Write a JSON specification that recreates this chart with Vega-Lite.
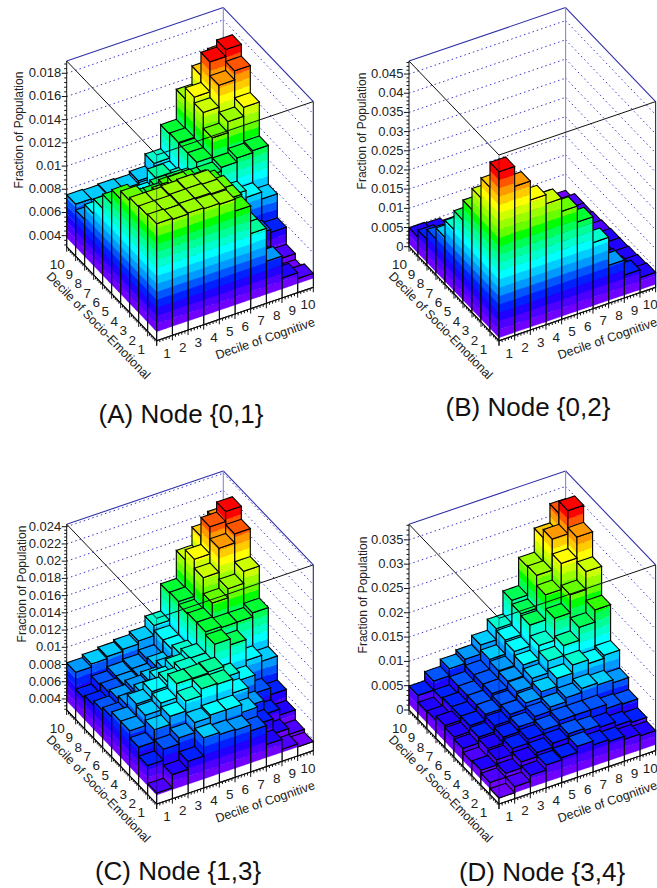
{"$schema":"https://vega.github.io/schema/vega-lite/v6.json","width":657,"height":888,"padding":0,"autosize":{"type":"none"},"background":"white","config":{"view":{"stroke":null}},
"datasets":{
"bars":[
{"p":"A","c":10,"s":10,"v":0.01598},{"p":"A","c":9,"s":10,"v":0.01495},{"p":"A","c":8,"s":10,"v":0.01339},{"p":"A","c":7,"s":10,"v":0.01081},{"p":"A","c":6,"s":10,"v":0.00874},{"p":"A","c":5,"s":10,"v":0.0077},{"p":"A","c":4,"s":10,"v":0.00745},{"p":"A","c":3,"s":10,"v":0.00753},{"p":"A","c":2,"s":10,"v":0.00745},{"p":"A","c":1,"s":10,"v":0.00753},
{"p":"A","c":10,"s":9,"v":0.01753},{"p":"A","c":9,"s":9,"v":0.01693},{"p":"A","c":8,"s":9,"v":0.01434},{"p":"A","c":7,"s":9,"v":0.01089},{"p":"A","c":6,"s":9,"v":0.00848},{"p":"A","c":5,"s":9,"v":0.00753},{"p":"A","c":4,"s":9,"v":0.00719},{"p":"A","c":3,"s":9,"v":0.0071},{"p":"A","c":2,"s":9,"v":0.00702},{"p":"A","c":1,"s":9,"v":0.00702},
{"p":"A","c":10,"s":8,"v":0.0165},{"p":"A","c":9,"s":8,"v":0.01572},{"p":"A","c":8,"s":8,"v":0.01383},{"p":"A","c":7,"s":8,"v":0.01081},{"p":"A","c":6,"s":8,"v":0.00874},{"p":"A","c":5,"s":8,"v":0.00952},{"p":"A","c":4,"s":8,"v":0.00839},{"p":"A","c":3,"s":8,"v":0.00805},{"p":"A","c":2,"s":8,"v":0.00822},{"p":"A","c":1,"s":8,"v":0.00831},
{"p":"A","c":10,"s":7,"v":0.01417},{"p":"A","c":9,"s":7,"v":0.01339},{"p":"A","c":8,"s":7,"v":0.01245},{"p":"A","c":7,"s":7,"v":0.01081},{"p":"A","c":6,"s":7,"v":0.00952},{"p":"A","c":5,"s":7,"v":0.0096},{"p":"A","c":4,"s":7,"v":0.00908},{"p":"A","c":3,"s":7,"v":0.00908},{"p":"A","c":2,"s":7,"v":0.00926},{"p":"A","c":1,"s":7,"v":0.0096},
{"p":"A","c":10,"s":6,"v":0.01124},{"p":"A","c":9,"s":6,"v":0.01107},{"p":"A","c":8,"s":6,"v":0.01072},{"p":"A","c":7,"s":6,"v":0.01038},{"p":"A","c":6,"s":6,"v":0.01038},{"p":"A","c":5,"s":6,"v":0.01064},{"p":"A","c":4,"s":6,"v":0.01064},{"p":"A","c":3,"s":6,"v":0.01012},{"p":"A","c":2,"s":6,"v":0.00995},{"p":"A","c":1,"s":6,"v":0.01081},
{"p":"A","c":10,"s":5,"v":0.00788},{"p":"A","c":9,"s":5,"v":0.00848},{"p":"A","c":8,"s":5,"v":0.00908},{"p":"A","c":7,"s":5,"v":0.00952},{"p":"A","c":6,"s":5,"v":0.01098},{"p":"A","c":5,"s":5,"v":0.0115},{"p":"A","c":4,"s":5,"v":0.0115},{"p":"A","c":3,"s":5,"v":0.01124},{"p":"A","c":2,"s":5,"v":0.01124},{"p":"A","c":1,"s":5,"v":0.01202},
{"p":"A","c":10,"s":4,"v":0.00581},{"p":"A","c":9,"s":4,"v":0.00607},{"p":"A","c":8,"s":4,"v":0.00736},{"p":"A","c":7,"s":4,"v":0.00926},{"p":"A","c":6,"s":4,"v":0.01176},{"p":"A","c":5,"s":4,"v":0.01167},{"p":"A","c":4,"s":4,"v":0.01253},{"p":"A","c":3,"s":4,"v":0.0121},{"p":"A","c":2,"s":4,"v":0.01167},{"p":"A","c":1,"s":4,"v":0.0127},
{"p":"A","c":10,"s":3,"v":0.00434},{"p":"A","c":9,"s":3,"v":0.0046},{"p":"A","c":8,"s":3,"v":0.00607},{"p":"A","c":7,"s":3,"v":0.00952},{"p":"A","c":6,"s":3,"v":0.0121},{"p":"A","c":5,"s":3,"v":0.01305},{"p":"A","c":4,"s":3,"v":0.01314},{"p":"A","c":3,"s":3,"v":0.01305},{"p":"A","c":2,"s":3,"v":0.01296},{"p":"A","c":1,"s":3,"v":0.01296},
{"p":"A","c":10,"s":2,"v":0.00383},{"p":"A","c":9,"s":2,"v":0.00426},{"p":"A","c":8,"s":2,"v":0.00615},{"p":"A","c":7,"s":2,"v":0.00952},{"p":"A","c":6,"s":2,"v":0.0121},{"p":"A","c":5,"s":2,"v":0.01305},{"p":"A","c":4,"s":2,"v":0.01314},{"p":"A","c":3,"s":2,"v":0.01314},{"p":"A","c":2,"s":2,"v":0.01305},{"p":"A","c":1,"s":2,"v":0.01305},
{"p":"A","c":10,"s":1,"v":0.00426},{"p":"A","c":9,"s":1,"v":0.00477},{"p":"A","c":8,"s":1,"v":0.00667},{"p":"A","c":7,"s":1,"v":0.00952},{"p":"A","c":6,"s":1,"v":0.01193},{"p":"A","c":5,"s":1,"v":0.01296},{"p":"A","c":4,"s":1,"v":0.01305},{"p":"A","c":3,"s":1,"v":0.01314},{"p":"A","c":2,"s":1,"v":0.01305},{"p":"A","c":1,"s":1,"v":0.01314},
{"p":"B","c":10,"s":10,"v":0.00078},{"p":"B","c":9,"s":10,"v":0.00235},{"p":"B","c":8,"s":10,"v":0.00235},{"p":"B","c":7,"s":10,"v":0.00261},{"p":"B","c":6,"s":10,"v":0.00287},{"p":"B","c":5,"s":10,"v":0.00313},{"p":"B","c":4,"s":10,"v":0.00365},{"p":"B","c":3,"s":10,"v":0.00391},{"p":"B","c":2,"s":10,"v":0.00469},{"p":"B","c":1,"s":10,"v":0.00495},
{"p":"B","c":10,"s":9,"v":0.00235},{"p":"B","c":9,"s":9,"v":0.00235},{"p":"B","c":8,"s":9,"v":0.00261},{"p":"B","c":7,"s":9,"v":0.00287},{"p":"B","c":6,"s":9,"v":0.00313},{"p":"B","c":5,"s":9,"v":0.00365},{"p":"B","c":4,"s":9,"v":0.00391},{"p":"B","c":3,"s":9,"v":0.00469},{"p":"B","c":2,"s":9,"v":0.00573},{"p":"B","c":1,"s":9,"v":0.00678},
{"p":"B","c":10,"s":8,"v":0.00235},{"p":"B","c":9,"s":8,"v":0.00261},{"p":"B","c":8,"s":8,"v":0.00287},{"p":"B","c":7,"s":8,"v":0.00313},{"p":"B","c":6,"s":8,"v":0.00365},{"p":"B","c":5,"s":8,"v":0.00391},{"p":"B","c":4,"s":8,"v":0.00469},{"p":"B","c":3,"s":8,"v":0.00521},{"p":"B","c":2,"s":8,"v":0.00652},{"p":"B","c":1,"s":8,"v":0.00938},
{"p":"B","c":10,"s":7,"v":0.00261},{"p":"B","c":9,"s":7,"v":0.00287},{"p":"B","c":8,"s":7,"v":0.00313},{"p":"B","c":7,"s":7,"v":0.00365},{"p":"B","c":6,"s":7,"v":0.00391},{"p":"B","c":5,"s":7,"v":0.00469},{"p":"B","c":4,"s":7,"v":0.00521},{"p":"B","c":3,"s":7,"v":0.00652},{"p":"B","c":2,"s":7,"v":0.00782},{"p":"B","c":1,"s":7,"v":0.01225},
{"p":"B","c":10,"s":6,"v":0.00287},{"p":"B","c":9,"s":6,"v":0.00313},{"p":"B","c":8,"s":6,"v":0.00365},{"p":"B","c":7,"s":6,"v":0.00391},{"p":"B","c":6,"s":6,"v":0.00469},{"p":"B","c":5,"s":6,"v":0.00521},{"p":"B","c":4,"s":6,"v":0.00652},{"p":"B","c":3,"s":6,"v":0.00782},{"p":"B","c":2,"s":6,"v":0.01042},{"p":"B","c":1,"s":6,"v":0.01668},
{"p":"B","c":10,"s":5,"v":0.00313},{"p":"B","c":9,"s":5,"v":0.00339},{"p":"B","c":8,"s":5,"v":0.00391},{"p":"B","c":7,"s":5,"v":0.00469},{"p":"B","c":6,"s":5,"v":0.00521},{"p":"B","c":5,"s":5,"v":0.00652},{"p":"B","c":4,"s":5,"v":0.00782},{"p":"B","c":3,"s":5,"v":0.0099},{"p":"B","c":2,"s":5,"v":0.01303},{"p":"B","c":1,"s":5,"v":0.02163},
{"p":"B","c":10,"s":4,"v":0.00313},{"p":"B","c":9,"s":4,"v":0.00365},{"p":"B","c":8,"s":4,"v":0.00417},{"p":"B","c":7,"s":4,"v":0.00521},{"p":"B","c":6,"s":4,"v":0.00652},{"p":"B","c":5,"s":4,"v":0.00782},{"p":"B","c":4,"s":4,"v":0.0099},{"p":"B","c":3,"s":4,"v":0.01173},{"p":"B","c":2,"s":4,"v":0.01564},{"p":"B","c":1,"s":4,"v":0.02684},
{"p":"B","c":10,"s":3,"v":0.00339},{"p":"B","c":9,"s":3,"v":0.00417},{"p":"B","c":8,"s":3,"v":0.00521},{"p":"B","c":7,"s":3,"v":0.00625},{"p":"B","c":6,"s":3,"v":0.00782},{"p":"B","c":5,"s":3,"v":0.0099},{"p":"B","c":4,"s":3,"v":0.01173},{"p":"B","c":3,"s":3,"v":0.01433},{"p":"B","c":2,"s":3,"v":0.01824},{"p":"B","c":1,"s":3,"v":0.03231},
{"p":"B","c":10,"s":2,"v":0.00365},{"p":"B","c":9,"s":2,"v":0.00469},{"p":"B","c":8,"s":2,"v":0.00573},{"p":"B","c":7,"s":2,"v":0.0073},{"p":"B","c":6,"s":2,"v":0.01042},{"p":"B","c":5,"s":2,"v":0.01303},{"p":"B","c":4,"s":2,"v":0.01564},{"p":"B","c":3,"s":2,"v":0.01824},{"p":"B","c":2,"s":2,"v":0.02345},{"p":"B","c":1,"s":2,"v":0.03753},
{"p":"B","c":10,"s":1,"v":0.00391},{"p":"B","c":9,"s":1,"v":0.00599},{"p":"B","c":8,"s":1,"v":0.0099},{"p":"B","c":7,"s":1,"v":0.0172},{"p":"B","c":6,"s":1,"v":0.02398},{"p":"B","c":5,"s":1,"v":0.02814},{"p":"B","c":4,"s":1,"v":0.03153},{"p":"B","c":3,"s":1,"v":0.03388},{"p":"B","c":2,"s":1,"v":0.03883},{"p":"B","c":1,"s":1,"v":0.04404},
{"p":"C","c":10,"s":10,"v":0.02017},{"p":"C","c":9,"s":10,"v":0.019},{"p":"C","c":8,"s":10,"v":0.01691},{"p":"C","c":7,"s":10,"v":0.01365},{"p":"C","c":6,"s":10,"v":0.01051},{"p":"C","c":5,"s":10,"v":0.00935},{"p":"C","c":4,"s":10,"v":0.009},{"p":"C","c":3,"s":10,"v":0.00877},{"p":"C","c":2,"s":10,"v":0.00854},{"p":"C","c":1,"s":10,"v":0.00819},
{"p":"C","c":10,"s":9,"v":0.02237},{"p":"C","c":9,"s":9,"v":0.02121},{"p":"C","c":8,"s":9,"v":0.01807},{"p":"C","c":7,"s":9,"v":0.01377},{"p":"C","c":6,"s":9,"v":0.00993},{"p":"C","c":5,"s":9,"v":0.0083},{"p":"C","c":4,"s":9,"v":0.00784},{"p":"C","c":3,"s":9,"v":0.0076},{"p":"C","c":2,"s":9,"v":0.00714},{"p":"C","c":1,"s":9,"v":0.00621},
{"p":"C","c":10,"s":8,"v":0.02086},{"p":"C","c":9,"s":8,"v":0.01982},{"p":"C","c":8,"s":8,"v":0.01702},{"p":"C","c":7,"s":8,"v":0.01342},{"p":"C","c":6,"s":8,"v":0.00993},{"p":"C","c":5,"s":8,"v":0.00854},{"p":"C","c":4,"s":8,"v":0.00784},{"p":"C","c":3,"s":8,"v":0.0076},{"p":"C","c":2,"s":8,"v":0.00737},{"p":"C","c":1,"s":8,"v":0.00656},
{"p":"C","c":10,"s":7,"v":0.01761},{"p":"C","c":9,"s":7,"v":0.01621},{"p":"C","c":8,"s":7,"v":0.01516},{"p":"C","c":7,"s":7,"v":0.01354},{"p":"C","c":6,"s":7,"v":0.0104},{"p":"C","c":5,"s":7,"v":0.00923},{"p":"C","c":4,"s":7,"v":0.00854},{"p":"C","c":3,"s":7,"v":0.00819},{"p":"C","c":2,"s":7,"v":0.00772},{"p":"C","c":1,"s":7,"v":0.00702},
{"p":"C","c":10,"s":6,"v":0.01388},{"p":"C","c":9,"s":6,"v":0.01342},{"p":"C","c":8,"s":6,"v":0.01342},{"p":"C","c":7,"s":6,"v":0.01354},{"p":"C","c":6,"s":6,"v":0.01109},{"p":"C","c":5,"s":6,"v":0.01051},{"p":"C","c":4,"s":6,"v":0.0097},{"p":"C","c":3,"s":6,"v":0.00877},{"p":"C","c":2,"s":6,"v":0.00807},{"p":"C","c":1,"s":6,"v":0.00737},
{"p":"C","c":10,"s":5,"v":0.00935},{"p":"C","c":9,"s":5,"v":0.01005},{"p":"C","c":8,"s":5,"v":0.01249},{"p":"C","c":7,"s":5,"v":0.01319},{"p":"C","c":6,"s":5,"v":0.01109},{"p":"C","c":5,"s":5,"v":0.01121},{"p":"C","c":4,"s":5,"v":0.01063},{"p":"C","c":3,"s":5,"v":0.01016},{"p":"C","c":2,"s":5,"v":0.00935},{"p":"C","c":1,"s":5,"v":0.00795},
{"p":"C","c":10,"s":4,"v":0.00656},{"p":"C","c":9,"s":4,"v":0.00737},{"p":"C","c":8,"s":4,"v":0.00947},{"p":"C","c":7,"s":4,"v":0.0104},{"p":"C","c":6,"s":4,"v":0.01168},{"p":"C","c":5,"s":4,"v":0.01156},{"p":"C","c":4,"s":4,"v":0.01156},{"p":"C","c":3,"s":4,"v":0.00993},{"p":"C","c":2,"s":4,"v":0.00912},{"p":"C","c":1,"s":4,"v":0.00795},
{"p":"C","c":10,"s":3,"v":0.00528},{"p":"C","c":9,"s":3,"v":0.00598},{"p":"C","c":8,"s":3,"v":0.0076},{"p":"C","c":7,"s":3,"v":0.0097},{"p":"C","c":6,"s":3,"v":0.01133},{"p":"C","c":5,"s":3,"v":0.01144},{"p":"C","c":4,"s":3,"v":0.01063},{"p":"C","c":3,"s":3,"v":0.00947},{"p":"C","c":2,"s":3,"v":0.00854},{"p":"C","c":1,"s":3,"v":0.00714},
{"p":"C","c":10,"s":2,"v":0.00412},{"p":"C","c":9,"s":2,"v":0.00481},{"p":"C","c":8,"s":2,"v":0.00656},{"p":"C","c":7,"s":2,"v":0.00854},{"p":"C","c":6,"s":2,"v":0.00947},{"p":"C","c":5,"s":2,"v":0.00947},{"p":"C","c":4,"s":2,"v":0.00923},{"p":"C","c":3,"s":2,"v":0.00807},{"p":"C","c":2,"s":2,"v":0.00737},{"p":"C","c":1,"s":2,"v":0.00609},
{"p":"C","c":10,"s":1,"v":0.00377},{"p":"C","c":9,"s":1,"v":0.00412},{"p":"C","c":8,"s":1,"v":0.00528},{"p":"C","c":7,"s":1,"v":0.00749},{"p":"C","c":6,"s":1,"v":0.00819},{"p":"C","c":5,"s":1,"v":0.0083},{"p":"C","c":4,"s":1,"v":0.00854},{"p":"C","c":3,"s":1,"v":0.00644},{"p":"C","c":2,"s":1,"v":0.00551},{"p":"C","c":1,"s":1,"v":0.004},
{"p":"D","c":10,"s":10,"v":0.03252},{"p":"D","c":9,"s":10,"v":0.02861},{"p":"D","c":8,"s":10,"v":0.02367},{"p":"D","c":7,"s":10,"v":0.0179},{"p":"D","c":6,"s":10,"v":0.01317},{"p":"D","c":5,"s":10,"v":0.01091},{"p":"D","c":4,"s":10,"v":0.00906},{"p":"D","c":3,"s":10,"v":0.00823},{"p":"D","c":2,"s":10,"v":0.00679},{"p":"D","c":1,"s":10,"v":0.00494},
{"p":"D","c":10,"s":9,"v":0.03499},{"p":"D","c":9,"s":9,"v":0.03025},{"p":"D","c":8,"s":9,"v":0.02387},{"p":"D","c":7,"s":9,"v":0.01708},{"p":"D","c":6,"s":9,"v":0.01276},{"p":"D","c":5,"s":9,"v":0.00988},{"p":"D","c":4,"s":9,"v":0.00782},{"p":"D","c":3,"s":9,"v":0.00659},{"p":"D","c":2,"s":9,"v":0.00494},{"p":"D","c":1,"s":9,"v":0.0035},
{"p":"D","c":10,"s":8,"v":0.03149},{"p":"D","c":9,"s":8,"v":0.02717},{"p":"D","c":8,"s":8,"v":0.02181},{"p":"D","c":7,"s":8,"v":0.01667},{"p":"D","c":6,"s":8,"v":0.01235},{"p":"D","c":5,"s":8,"v":0.00947},{"p":"D","c":4,"s":8,"v":0.00782},{"p":"D","c":3,"s":8,"v":0.00659},{"p":"D","c":2,"s":8,"v":0.00535},{"p":"D","c":1,"s":8,"v":0.0037},
{"p":"D","c":10,"s":7,"v":0.02634},{"p":"D","c":9,"s":7,"v":0.02264},{"p":"D","c":8,"s":7,"v":0.01893},{"p":"D","c":7,"s":7,"v":0.01441},{"p":"D","c":6,"s":7,"v":0.01152},{"p":"D","c":5,"s":7,"v":0.00926},{"p":"D","c":4,"s":7,"v":0.00782},{"p":"D","c":3,"s":7,"v":0.00659},{"p":"D","c":2,"s":7,"v":0.00535},{"p":"D","c":1,"s":7,"v":0.00453},
{"p":"D","c":10,"s":6,"v":0.02037},{"p":"D","c":9,"s":6,"v":0.0179},{"p":"D","c":8,"s":6,"v":0.01523},{"p":"D","c":7,"s":6,"v":0.01317},{"p":"D","c":6,"s":6,"v":0.0107},{"p":"D","c":5,"s":6,"v":0.00906},{"p":"D","c":4,"s":6,"v":0.00741},{"p":"D","c":3,"s":6,"v":0.00659},{"p":"D","c":2,"s":6,"v":0.00535},{"p":"D","c":1,"s":6,"v":0.00412},
{"p":"D","c":10,"s":5,"v":0.01297},{"p":"D","c":9,"s":5,"v":0.01235},{"p":"D","c":8,"s":5,"v":0.01317},{"p":"D","c":7,"s":5,"v":0.01152},{"p":"D","c":6,"s":5,"v":0.00988},{"p":"D","c":5,"s":5,"v":0.00864},{"p":"D","c":4,"s":5,"v":0.00741},{"p":"D","c":3,"s":5,"v":0.00617},{"p":"D","c":2,"s":5,"v":0.00494},{"p":"D","c":1,"s":5,"v":0.0037},
{"p":"D","c":10,"s":4,"v":0.00926},{"p":"D","c":9,"s":4,"v":0.00988},{"p":"D","c":8,"s":4,"v":0.01029},{"p":"D","c":7,"s":4,"v":0.00947},{"p":"D","c":6,"s":4,"v":0.00864},{"p":"D","c":5,"s":4,"v":0.00782},{"p":"D","c":4,"s":4,"v":0.00679},{"p":"D","c":3,"s":4,"v":0.00576},{"p":"D","c":2,"s":4,"v":0.00453},{"p":"D","c":1,"s":4,"v":0.00288},
{"p":"D","c":10,"s":3,"v":0.00679},{"p":"D","c":9,"s":3,"v":0.007},{"p":"D","c":8,"s":3,"v":0.00782},{"p":"D","c":7,"s":3,"v":0.00782},{"p":"D","c":6,"s":3,"v":0.00782},{"p":"D","c":5,"s":3,"v":0.007},{"p":"D","c":4,"s":3,"v":0.00617},{"p":"D","c":3,"s":3,"v":0.00535},{"p":"D","c":2,"s":3,"v":0.00412},{"p":"D","c":1,"s":3,"v":0.00309},
{"p":"D","c":10,"s":2,"v":0.00494},{"p":"D","c":9,"s":2,"v":0.00535},{"p":"D","c":8,"s":2,"v":0.00617},{"p":"D","c":7,"s":2,"v":0.00659},{"p":"D","c":6,"s":2,"v":0.007},{"p":"D","c":5,"s":2,"v":0.00617},{"p":"D","c":4,"s":2,"v":0.00535},{"p":"D","c":3,"s":2,"v":0.00453},{"p":"D","c":2,"s":2,"v":0.00329},{"p":"D","c":1,"s":2,"v":0.00247},
{"p":"D","c":10,"s":1,"v":0.00412},{"p":"D","c":9,"s":1,"v":0.00453},{"p":"D","c":8,"s":1,"v":0.00515},{"p":"D","c":7,"s":1,"v":0.00556},{"p":"D","c":6,"s":1,"v":0.00638},{"p":"D","c":5,"s":1,"v":0.00515},{"p":"D","c":4,"s":1,"v":0.00473},{"p":"D","c":3,"s":1,"v":0.0037},{"p":"D","c":2,"s":1,"v":0.00247},{"p":"D","c":1,"s":1,"v":0.00123}
],
"majors":[
{"p":"A","z":0.004,"lab":"0.004"},{"p":"A","z":0.006,"lab":"0.006"},{"p":"A","z":0.008,"lab":"0.008"},{"p":"A","z":0.01,"lab":"0.01"},{"p":"A","z":0.012,"lab":"0.012"},{"p":"A","z":0.014,"lab":"0.014"},{"p":"A","z":0.016,"lab":"0.016"},{"p":"A","z":0.018,"lab":"0.018"},
{"p":"B","z":0,"lab":"0"},{"p":"B","z":0.005,"lab":"0.005"},{"p":"B","z":0.01,"lab":"0.01"},{"p":"B","z":0.015,"lab":"0.015"},{"p":"B","z":0.02,"lab":"0.02"},{"p":"B","z":0.025,"lab":"0.025"},{"p":"B","z":0.03,"lab":"0.03"},{"p":"B","z":0.035,"lab":"0.035"},{"p":"B","z":0.04,"lab":"0.04"},{"p":"B","z":0.045,"lab":"0.045"},
{"p":"C","z":0.004,"lab":"0.004"},{"p":"C","z":0.006,"lab":"0.006"},{"p":"C","z":0.008,"lab":"0.008"},{"p":"C","z":0.01,"lab":"0.01"},{"p":"C","z":0.012,"lab":"0.012"},{"p":"C","z":0.014,"lab":"0.014"},{"p":"C","z":0.016,"lab":"0.016"},{"p":"C","z":0.018,"lab":"0.018"},{"p":"C","z":0.02,"lab":"0.02"},{"p":"C","z":0.022,"lab":"0.022"},{"p":"C","z":0.024,"lab":"0.024"},
{"p":"D","z":0,"lab":"0"},{"p":"D","z":0.005,"lab":"0.005"},{"p":"D","z":0.01,"lab":"0.01"},{"p":"D","z":0.015,"lab":"0.015"},{"p":"D","z":0.02,"lab":"0.02"},{"p":"D","z":0.025,"lab":"0.025"},{"p":"D","z":0.03,"lab":"0.03"},{"p":"D","z":0.035,"lab":"0.035"}
],
"minors":[
{"p":"A","zs":[0.0032,0.0036,0.0044,0.0048,0.0052,0.0056,0.0064,0.0068,0.0072,0.0076,0.0084,0.0088,0.0092,0.0096,0.0104,0.0108,0.0112,0.0116,0.0124,0.0128,0.0132,0.0136,0.0144,0.0148,0.0152,0.0156,0.0164,0.0168,0.0172,0.0176,0.0184,0.0188]},
{"p":"B","zs":[0.001,0.002,0.003,0.004,0.006,0.007,0.008,0.009,0.011,0.012,0.013,0.014,0.016,0.017,0.018,0.019,0.021,0.022,0.023,0.024,0.026,0.027,0.028,0.029,0.031,0.032,0.033,0.034,0.036,0.037,0.038,0.039,0.041,0.042,0.043,0.044,0.046,0.047,0.048]},
{"p":"C","zs":[0.0028,0.0032,0.0036,0.0044,0.0048,0.0052,0.0056,0.0064,0.0068,0.0072,0.0076,0.0084,0.0088,0.0092,0.0096,0.0104,0.0108,0.0112,0.0116,0.0124,0.0128,0.0132,0.0136,0.0144,0.0148,0.0152,0.0156,0.0164,0.0168,0.0172,0.0176,0.0184,0.0188,0.0192,0.0196,0.0204,0.0208,0.0212,0.0216,0.0224,0.0228,0.0232,0.0236]},
{"p":"D","zs":[0.001,0.002,0.003,0.004,0.006,0.007,0.008,0.009,0.011,0.012,0.013,0.014,0.016,0.017,0.018,0.019,0.021,0.022,0.023,0.024,0.026,0.027,0.028,0.029,0.031,0.032,0.033,0.034,0.036,0.037,0.038]}
],
"edges":[{"edge":"lb"},{"edge":"br"},{"edge":"bv"},{"edge":"rv"},{"edge":"fl"},{"edge":"fr"},{"edge":"fv"},{"edge":"lv"},{"edge":"bl"},{"edge":"b2"}],
"baseTicks":[{"axis":"cog"},{"axis":"soc"}],
"panels":[{"p":"A","label":"(A) Node {0,1}"},{"p":"B","label":"(B) Node {0,2}"},{"p":"C","label":"(C) Node {1,3}"},{"p":"D","label":"(D) Node {3,4}"}]
},
"layer":[
{"data":{"name":"majors"},"transform":[
{"calculate":"{A:156.7,B:499,C:156.7,D:499}[datum.p]","as":"ox"},{"calculate":"{A:340.7,B:340.7,C:804,D:804}[datum.p]","as":"oy"},{"calculate":"{A:0.00305,B:0,C:0.00272,D:0}[datum.p]","as":"zlo"},{"calculate":"{A:0.01906,B:0.0484,C:0.02428,D:0.0382}[datum.p]","as":"zhi"},
{"calculate":"[0,1]","as":"segs"},{"flatten":["segs"],"as":["seg"]},
{"calculate":"(datum.z-datum.zlo)/(datum.zhi-datum.zlo)*185.7","as":"hp"},
{"calculate":"datum.seg==0?0:10","as":"u1"},{"calculate":"datum.seg==0?10:0","as":"w2"},
{"calculate":"datum.ox+15.66*datum.u1-90","as":"X1"},{"calculate":"datum.oy-5.34*datum.u1-94-datum.hp","as":"Y1"},
{"calculate":"datum.ox+156.6-9*datum.w2","as":"X2"},{"calculate":"datum.oy-53.4-9.4*datum.w2-datum.hp","as":"Y2"}],
"mark":{"type":"rule","stroke":"#3a3ac8","strokeWidth":1,"strokeDash":[1.5,3]},
"encoding":{"x":{"field":"X1","type":"quantitative","scale":{"domain":[0,657],"range":[0,657]},"axis":null},"y":{"field":"Y1","type":"quantitative","scale":{"domain":[0,888],"range":[0,888]},"axis":null},"x2":{"field":"X2"},"y2":{"field":"Y2"}}},
{"data":{"name":"edges"},"transform":[
{"filter":"indexof(['lb','br','bv','rv'],datum.edge)>=0"},
{"calculate":"['A','B','C','D']","as":"ps"},{"flatten":["ps"],"as":["p"]},
{"calculate":"{A:156.7,B:499,C:156.7,D:499}[datum.p]","as":"ox"},{"calculate":"{A:340.7,B:340.7,C:804,D:804}[datum.p]","as":"oy"},
{"calculate":"{lb:[0,10,1,10,10,1],br:[10,10,1,10,0,1],bv:[10,10,0,10,10,1],rv:[10,0,0,10,0,1]}[datum.edge]","as":"g"},
{"calculate":"{lb:'#3030a8',br:'#3030a8',bv:'#8888d8',rv:'#2a2a60'}[datum.edge]","as":"col"},
{"calculate":"datum.ox+15.66*datum.g[0]-9*datum.g[1]","as":"X1"},{"calculate":"datum.oy-5.34*datum.g[0]-9.4*datum.g[1]-185.7*datum.g[2]","as":"Y1"},
{"calculate":"datum.ox+15.66*datum.g[3]-9*datum.g[4]","as":"X2"},{"calculate":"datum.oy-5.34*datum.g[3]-9.4*datum.g[4]-185.7*datum.g[5]","as":"Y2"}],
"mark":{"type":"rule","strokeWidth":1.1},
"encoding":{"x":{"field":"X1","type":"quantitative","scale":{"domain":[0,657],"range":[0,657]},"axis":null},"y":{"field":"Y1","type":"quantitative","scale":{"domain":[0,888],"range":[0,888]},"axis":null},"x2":{"field":"X2"},"y2":{"field":"Y2"},"stroke":{"field":"col","type":"nominal","scale":null,"legend":null}}},
{"data":{"name":"bars"},"transform":[
{"joinaggregate":[{"op":"min","field":"v","as":"vmin"},{"op":"max","field":"v","as":"vmax"}],"groupby":["p"]},
{"calculate":"{A:156.7,B:499,C:156.7,D:499}[datum.p]","as":"ox"},{"calculate":"{A:340.7,B:340.7,C:804,D:804}[datum.p]","as":"oy"},{"calculate":"{A:0.00305,B:0,C:0.00272,D:0}[datum.p]","as":"zlo"},{"calculate":"{A:0.01906,B:0.0484,C:0.02428,D:0.0382}[datum.p]","as":"zhi"},
{"calculate":"(datum.vmax-datum.vmin)/20","as":"bw"},
{"calculate":"datum.v<=datum.vmin?1:1+ceil((datum.v-datum.vmin)/datum.bw-0.000000001)","as":"n"},
{"calculate":"slice([0,1,2,3,4,5,6,7,8,9,10,11,12,13,14,15,16,17,18,19,20,21,22,23,24,25,26,27,28,29,30,31,32,33,34,35,36,37,38,39,40,41,42,43,44],0,2*datum.n+3)","as":"es"},
{"flatten":["es"],"as":["e"]},
{"calculate":"datum.e<datum.n?'L':datum.e==datum.n?'LO':datum.e<=2*datum.n?'R':datum.e==2*datum.n+1?'RO':'T'","as":"face"},
{"calculate":"datum.face=='L'?datum.e:datum.face=='R'?datum.e-datum.n-1:-1","as":"b"},
{"calculate":"datum.face=='T'?datum.v:datum.b<=0?datum.zlo:datum.vmin+(datum.b-1)*datum.bw","as":"lo"},
{"calculate":"datum.face=='T'?datum.v:datum.b<0?datum.v:datum.b==0?datum.vmin:min(datum.v,datum.vmin+datum.b*datum.bw)","as":"hi"},
{"calculate":"['#ffffff','#7000ff','#4d00ff','#2000ff','#0020ff','#0055ff','#0099ff','#00ccff','#00ffff','#00ffcc','#00ff99','#00ff55','#00ff00','#66ff00','#99ff00','#ccff00','#ffff00','#ffcc00','#ff9900','#ff5500','#ff0000']","as":"pal"},
{"calculate":"['#7000ff','#4d00ff','#2000ff','#0020ff','#0055ff','#0099ff','#00ccff','#00ffff','#00ffcc','#00ff99','#00ff55','#00ff33','#33ff00','#66ff00','#99ff00','#ccff00','#ffff00','#ffcc00','#ff9900','#ff5500','#ff0000']","as":"tp"},
{"calculate":"datum.face=='T'?datum.tp[datum.n-1]:datum.b>=0?datum.pal[datum.b]:'transparent'","as":"fc"},
{"calculate":"datum.b>=0?datum.fc:'#000000'","as":"sc"},
{"calculate":"datum.b>=0?0.3:1.1","as":"sw"},
{"calculate":"datum.face=='T'?[0,1,2,3]:[0,1]","as":"pts"},
{"flatten":["pts"],"as":["pt"]},
{"calculate":"datum.face=='T'?[datum.c-1,datum.c-1+0.5745,datum.c,datum.c][datum.pt]:(datum.face=='R'||datum.face=='RO')?datum.c-1+datum.pt:datum.c-1","as":"uU"},
{"calculate":"datum.face=='T'?[datum.s,datum.s,datum.s,datum.s-1][datum.pt]:(datum.face=='L'||datum.face=='LO')?datum.s-1+datum.pt:datum.s-1","as":"wU"},
{"calculate":"datum.face=='T'?[datum.c-1,datum.c-1,datum.c-1+0.4255,datum.c][datum.pt]:datum.uU","as":"uL"},
{"calculate":"datum.face=='T'?[datum.s,datum.s-1,datum.s-1,datum.s-1][datum.pt]:datum.wU","as":"wL"},
{"calculate":"datum.ox+15.66*datum.uU-9*datum.wU","as":"X"},
{"calculate":"datum.oy-5.34*datum.uU-9.4*datum.wU-(datum.hi-datum.zlo)/(datum.zhi-datum.zlo)*185.7","as":"Yu"},
{"calculate":"datum.oy-5.34*datum.uL-9.4*datum.wL-(datum.lo-datum.zlo)/(datum.zhi-datum.zlo)*185.7","as":"Yl"},
{"calculate":"'k'+datum.p+'_'+datum.c+'_'+datum.s+'_'+datum.e","as":"key"}],
"mark":{"type":"area","orient":"vertical","opacity":1,"strokeJoin":"miter"},
"encoding":{"x":{"field":"X","type":"quantitative","scale":{"domain":[0,657],"range":[0,657]},"axis":null},"y":{"field":"Yu","type":"quantitative","scale":{"domain":[0,888],"range":[0,888]},"axis":null},"y2":{"field":"Yl"},"detail":{"field":"key","type":"nominal"},"fill":{"field":"fc","type":"nominal","scale":null,"legend":null},"stroke":{"field":"sc","type":"nominal","scale":null,"legend":null},"strokeWidth":{"field":"sw","type":"quantitative","scale":null,"legend":null}}},
{"data":{"name":"edges"},"transform":[
{"filter":"indexof(['fl','fr','fv','lv','bl','b2'],datum.edge)>=0"},
{"calculate":"['A','B','C','D']","as":"ps"},{"flatten":["ps"],"as":["p"]},
{"calculate":"{A:156.7,B:499,C:156.7,D:499}[datum.p]","as":"ox"},{"calculate":"{A:340.7,B:340.7,C:804,D:804}[datum.p]","as":"oy"},
{"calculate":"{fl:[0,0,1,0,10,1],fr:[0,0,1,10,0,1],fv:[0,0,0,0,0,1],lv:[0,10,0,0,10,1],bl:[0,0,0,0,10,0],b2:[0,0,0,10,0,0]}[datum.edge]","as":"g"},
{"calculate":"datum.edge=='fv'?'rgba(0,0,60,0.45)':'#111111'","as":"col"},
{"calculate":"datum.ox+15.66*datum.g[0]-9*datum.g[1]","as":"X1"},{"calculate":"datum.oy-5.34*datum.g[0]-9.4*datum.g[1]-185.7*datum.g[2]","as":"Y1"},
{"calculate":"datum.ox+15.66*datum.g[3]-9*datum.g[4]","as":"X2"},{"calculate":"datum.oy-5.34*datum.g[3]-9.4*datum.g[4]-185.7*datum.g[5]","as":"Y2"}],
"mark":{"type":"rule","strokeWidth":1},
"encoding":{"x":{"field":"X1","type":"quantitative","scale":{"domain":[0,657],"range":[0,657]},"axis":null},"y":{"field":"Y1","type":"quantitative","scale":{"domain":[0,888],"range":[0,888]},"axis":null},"x2":{"field":"X2"},"y2":{"field":"Y2"},"stroke":{"field":"col","type":"nominal","scale":null,"legend":null}}},
{"data":{"name":"majors"},"transform":[
{"calculate":"{A:156.7,B:499,C:156.7,D:499}[datum.p]-90","as":"X2"},{"calculate":"{A:340.7,B:340.7,C:804,D:804}[datum.p]-94","as":"oy"},{"calculate":"{A:0.00305,B:0,C:0.00272,D:0}[datum.p]","as":"zlo"},{"calculate":"{A:0.01906,B:0.0484,C:0.02428,D:0.0382}[datum.p]","as":"zhi"},
{"calculate":"datum.oy-(datum.z-datum.zlo)/(datum.zhi-datum.zlo)*185.7","as":"Y"},{"calculate":"datum.X2-5","as":"X1"}],
"mark":{"type":"rule","stroke":"#111111","strokeWidth":1},
"encoding":{"x":{"field":"X1","type":"quantitative","scale":{"domain":[0,657],"range":[0,657]},"axis":null},"y":{"field":"Y","type":"quantitative","scale":{"domain":[0,888],"range":[0,888]},"axis":null},"x2":{"field":"X2"}}},
{"data":{"name":"minors"},"transform":[
{"flatten":["zs"],"as":["z"]},
{"calculate":"{A:156.7,B:499,C:156.7,D:499}[datum.p]-90","as":"X2"},{"calculate":"{A:340.7,B:340.7,C:804,D:804}[datum.p]-94","as":"oy"},{"calculate":"{A:0.00305,B:0,C:0.00272,D:0}[datum.p]","as":"zlo"},{"calculate":"{A:0.01906,B:0.0484,C:0.02428,D:0.0382}[datum.p]","as":"zhi"},
{"calculate":"datum.oy-(datum.z-datum.zlo)/(datum.zhi-datum.zlo)*185.7","as":"Y"},{"calculate":"datum.X2-2.5","as":"X1"}],
"mark":{"type":"rule","stroke":"#111111","strokeWidth":1},
"encoding":{"x":{"field":"X1","type":"quantitative","scale":{"domain":[0,657],"range":[0,657]},"axis":null},"y":{"field":"Y","type":"quantitative","scale":{"domain":[0,888],"range":[0,888]},"axis":null},"x2":{"field":"X2"}}},
{"data":{"name":"baseTicks"},"transform":[
{"calculate":"['A','B','C','D']","as":"ps"},{"flatten":["ps"],"as":["p"]},
{"calculate":"[0,0.2,0.4,0.6,0.8,1,1.2,1.4,1.6,1.8,2,2.2,2.4,2.6,2.8,3,3.2,3.4,3.6,3.8,4,4.2,4.4,4.6,4.8,5,5.2,5.4,5.6,5.8,6,6.2,6.4,6.6,6.8,7,7.2,7.4,7.6,7.8,8,8.2,8.4,8.6,8.8,9,9.2,9.4,9.6,9.8,10]","as":"ts"},{"flatten":["ts"],"as":["t"]},
{"calculate":"{A:156.7,B:499,C:156.7,D:499}[datum.p]","as":"ox"},{"calculate":"{A:340.7,B:340.7,C:804,D:804}[datum.p]","as":"oy"},
{"calculate":"datum.axis=='cog'?datum.ox+15.66*datum.t:datum.ox-9*datum.t","as":"X"},
{"calculate":"datum.axis=='cog'?datum.oy-5.34*datum.t:datum.oy-9.4*datum.t","as":"Y1"},
{"calculate":"datum.Y1+(abs(datum.t-round(datum.t))<0.01?5:2.5)","as":"Y2"}],
"mark":{"type":"rule","stroke":"#111111","strokeWidth":1},
"encoding":{"x":{"field":"X","type":"quantitative","scale":{"domain":[0,657],"range":[0,657]},"axis":null},"y":{"field":"Y1","type":"quantitative","scale":{"domain":[0,888],"range":[0,888]},"axis":null},"y2":{"field":"Y2"}}},
{"data":{"name":"majors"},"transform":[
{"calculate":"{A:156.7,B:499,C:156.7,D:499}[datum.p]-95.5","as":"X"},{"calculate":"{A:340.7,B:340.7,C:804,D:804}[datum.p]-94","as":"oy"},{"calculate":"{A:0.00305,B:0,C:0.00272,D:0}[datum.p]","as":"zlo"},{"calculate":"{A:0.01906,B:0.0484,C:0.02428,D:0.0382}[datum.p]","as":"zhi"},
{"calculate":"datum.oy-(datum.z-datum.zlo)/(datum.zhi-datum.zlo)*185.7","as":"Y"}],
"mark":{"type":"text","align":"right","baseline":"middle","font":"Liberation Sans","fontSize":13,"fill":"#222222"},
"encoding":{"x":{"field":"X","type":"quantitative","scale":{"domain":[0,657],"range":[0,657]},"axis":null},"y":{"field":"Y","type":"quantitative","scale":{"domain":[0,888],"range":[0,888]},"axis":null},"text":{"field":"lab","type":"nominal"}}},
{"data":{"name":"baseTicks"},"transform":[
{"calculate":"['A','B','C','D']","as":"ps"},{"flatten":["ps"],"as":["p"]},
{"calculate":"[1,2,3,4,5,6,7,8,9,10]","as":"ts"},{"flatten":["ts"],"as":["t"]},
{"calculate":"{A:156.7,B:499,C:156.7,D:499}[datum.p]","as":"ox"},{"calculate":"{A:340.7,B:340.7,C:804,D:804}[datum.p]","as":"oy"},
{"calculate":"datum.axis=='cog'?datum.ox+15.66*(datum.t-0.5)+2.5:datum.ox-9*(datum.t-0.5)-11-(datum.t==10?3:0)","as":"X"},
{"calculate":"datum.axis=='cog'?datum.oy-5.34*(datum.t-0.5)+15.5:datum.oy-9.4*(datum.t-0.5)+14","as":"Y"},
{"calculate":"''+datum.t","as":"lab"}],
"mark":{"type":"text","align":"center","baseline":"middle","font":"Liberation Sans","fontSize":13.5,"fill":"#222222"},
"encoding":{"x":{"field":"X","type":"quantitative","scale":{"domain":[0,657],"range":[0,657]},"axis":null},"y":{"field":"Y","type":"quantitative","scale":{"domain":[0,888],"range":[0,888]},"axis":null},"text":{"field":"lab","type":"nominal"}}},
{"data":{"name":"panels"},"transform":[
{"calculate":"{A:156.7,B:499,C:156.7,D:499}[datum.p]+108.5","as":"X"},{"calculate":"{A:340.7,B:340.7,C:804,D:804}[datum.p]-2","as":"Y"},{"calculate":"'Decile of Cognitive'","as":"lab"}],
"mark":{"type":"text","align":"center","baseline":"middle","angle":341,"font":"Liberation Sans","fontSize":12.5,"fill":"#222222"},
"encoding":{"x":{"field":"X","type":"quantitative","scale":{"domain":[0,657],"range":[0,657]},"axis":null},"y":{"field":"Y","type":"quantitative","scale":{"domain":[0,888],"range":[0,888]},"axis":null},"text":{"field":"lab","type":"nominal"}}},
{"data":{"name":"panels"},"transform":[
{"calculate":"{A:156.7,B:499,C:156.7,D:499}[datum.p]-58.3","as":"X"},{"calculate":"{A:340.7,B:340.7,C:804,D:804}[datum.p]-15","as":"Y"},{"calculate":"'Decile of Socio-Emotional'","as":"lab"}],
"mark":{"type":"text","align":"center","baseline":"middle","angle":46,"font":"Liberation Sans","fontSize":12.5,"fill":"#222222"},
"encoding":{"x":{"field":"X","type":"quantitative","scale":{"domain":[0,657],"range":[0,657]},"axis":null},"y":{"field":"Y","type":"quantitative","scale":{"domain":[0,888],"range":[0,888]},"axis":null},"text":{"field":"lab","type":"nominal"}}},
{"data":{"name":"panels"},"transform":[
{"calculate":"{A:19,B:362,C:21.5,D:363}[datum.p]","as":"X"},{"calculate":"{A:130,B:131,C:584,D:595}[datum.p]","as":"Y"},{"calculate":"'Fraction of Population'","as":"lab"}],
"mark":{"type":"text","align":"center","baseline":"middle","angle":270,"font":"Liberation Sans","fontSize":12,"fill":"#222222"},
"encoding":{"x":{"field":"X","type":"quantitative","scale":{"domain":[0,657],"range":[0,657]},"axis":null},"y":{"field":"Y","type":"quantitative","scale":{"domain":[0,888],"range":[0,888]},"axis":null},"text":{"field":"lab","type":"nominal"}}},
{"data":{"name":"panels"},"transform":[
{"calculate":"{A:181,B:528,C:178,D:542}[datum.p]","as":"X"},{"calculate":"{A:415,B:408,C:872,D:873}[datum.p]","as":"Y"}],
"mark":{"type":"text","align":"center","baseline":"middle","font":"Liberation Sans","fontSize":26,"fill":"#111111"},
"encoding":{"x":{"field":"X","type":"quantitative","scale":{"domain":[0,657],"range":[0,657]},"axis":null},"y":{"field":"Y","type":"quantitative","scale":{"domain":[0,888],"range":[0,888]},"axis":null},"text":{"field":"label","type":"nominal"}}}
]}
